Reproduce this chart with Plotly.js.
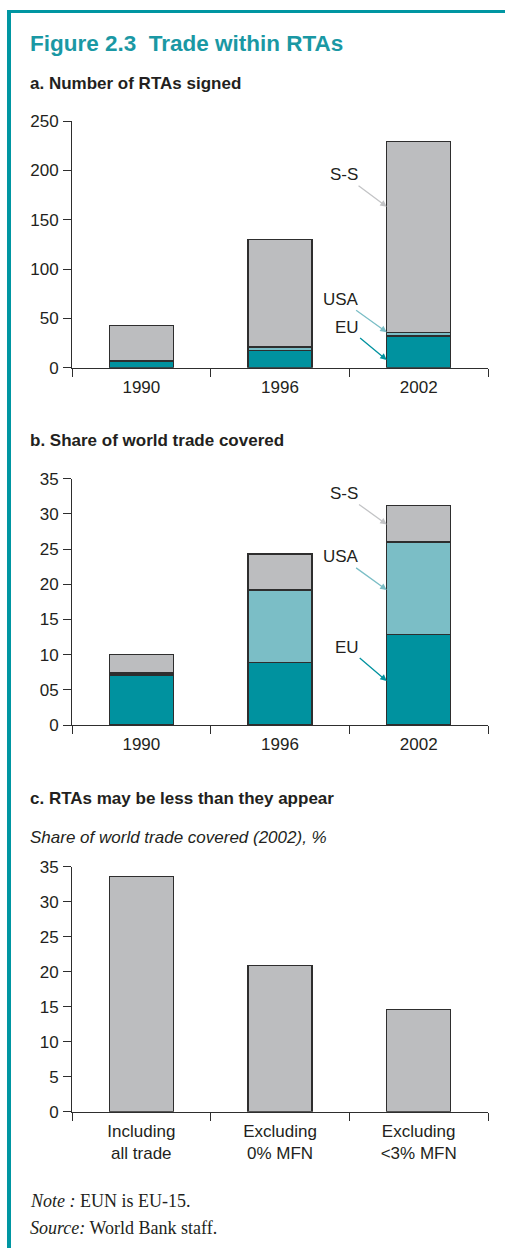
<!DOCTYPE html>
<html><head><meta charset="utf-8">
<script src="https://cdn.plot.ly/plotly-3.0.1.min.js"></script>
<style>html,body{margin:0;padding:0;background:#fff}</style>
</head><body><div id="chart" style="width:505px;height:1248px"></div>
<script>
// ---- data ----
const years = ['1990', '1996', '2002'];
const rtaEU = [6, 17.5, 32];
const rtaUSA = [1.5, 3.5, 4];
const rtaSS = [35.5, 109, 193];
const shareEU = [7.1, 8.9, 12.9];
const shareUSA = [0.3, 10.3, 13.1];
const shareSS = [2.6, 5.1, 5.2];
const scenarios = ['Including<br>all trade', 'Excluding<br>0% MFN', 'Excluding<br>&lt;3% MFN'];
const scenarioShare = [33.6, 20.9, 14.6];
const rtaTickVals = [0, 50, 100, 150, 200, 250];
const shareTickVals = [0, 5, 10, 15, 20, 25, 30, 35];
const shareTickText = ['0', '05', '10', '15', '20', '25', '30', '35'];
const panelCTickText = ['0', '5', '10', '15', '20', '25', '30', '35'];

// ---- styling ----
const W = 505, H = 1248;
const px = x => x / W, py = y => 1 - y / H;
const TEAL = '#00929f', LTEAL = '#7bbec6', GREY = '#bcbdbf', DARK = '#231f20', EDGE = '#2e2e2e';
const SANS = '"Liberation Sans", Arial, Helvetica, sans-serif';
const SERIF = '"Liberation Serif", "Times New Roman", serif';
const barLine = {color: EDGE, width: 1.3};

function bar(x, y, color, xa, ya) {
  return {type: 'bar', x: x, y: y, xaxis: xa, yaxis: ya,
    marker: {color: color, line: barLine}, hoverinfo: 'skip', showlegend: false};
}
const data = [
  bar(years, rtaEU, TEAL, 'x', 'y'),
  bar(years, rtaUSA, LTEAL, 'x', 'y'),
  bar(years, rtaSS, GREY, 'x', 'y'),
  bar(years, shareEU, TEAL, 'x2', 'y2'),
  bar(years, shareUSA, LTEAL, 'x2', 'y2'),
  bar(years, shareSS, GREY, 'x2', 'y2'),
  bar(scenarios, scenarioShare, GREY, 'x3', 'y3')
];

const tickFont = {family: SANS, size: 17, color: DARK};
function xAxis(anchor) {
  return {type: 'category', domain: [px(72), px(488)], anchor: anchor, showline: true, linecolor: EDGE, linewidth: 1,
    ticks: 'outside', tickson: 'boundaries', ticklen: 8, tickcolor: EDGE, tickwidth: 1,
    showgrid: false, zeroline: false, tickfont: tickFont, ticklabelstandoff: 4, fixedrange: true};
}
function yAxis(anchor, top, bottom, range, vals, text) {
  return {domain: [py(bottom), py(top)], anchor: anchor, range: range, showline: true, linecolor: EDGE,
    linewidth: 1, ticks: 'outside', ticklen: 8, tickcolor: EDGE, tickwidth: 1, tickmode: 'array',
    tickvals: vals, ticktext: text, showgrid: false, zeroline: false, tickfont: tickFont,
    ticklabelstandoff: 1, fixedrange: true};
}

function label(text, y, opts) {
  return Object.assign({text: text, xref: 'paper', yref: 'paper', x: px(28), y: py(y),
    xanchor: 'left', yanchor: 'middle', showarrow: false,
    font: {family: SANS, size: 17, color: DARK}}, opts || {});
}
function pointer(text, xa, ya, yv, ax, ay, color) {
  return {text: text, xref: xa, yref: ya, x: 1.77, y: yv, ax: ax, ay: ay,
    showarrow: true, arrowhead: 2, arrowsize: 1, arrowwidth: 1.3, arrowcolor: color,
    font: {family: SANS, size: 17, color: DARK}};
}

const annotations = [
  label('<b>a. Number of RTAs signed</b>', 84),
  label('<b>b. Share of world trade covered</b>', 441),
  label('<b>c. RTAs may be less than they appear</b>', 799),
  label('<i>Share of world trade covered (2002), %</i>', 838),
  label('<i>Note :</i> EUN is EU-15.', 1201, {font: {family: SERIF, size: 18, color: DARK}}),
  label('<i>Source:</i> World Bank staff.', 1228, {font: {family: SERIF, size: 18, color: DARK}}),
  pointer('S-S', 'x', 'y', 163, -43, -32, '#c3c4c6'),
  pointer('USA', 'x', 'y', 36, -46, -33, LTEAL),
  pointer('EU', 'x', 'y', 7.8, -40, -33, TEAL),
  pointer('S-S', 'x2', 'y2', 28.5, -43, -31, '#c3c4c6'),
  pointer('USA', 'x2', 'y2', 19.2, -46, -33, LTEAL),
  pointer('EU', 'x2', 'y2', 6.25, -40, -34, TEAL)
];

const layout = {
  width: W, height: H, margin: {l: 0, r: 0, t: 0, b: 0},
  paper_bgcolor: '#fff', plot_bgcolor: 'rgba(0,0,0,0)',
  barmode: 'stack', bargap: 0.54, showlegend: false,
  title: {text: '<b>Figure 2.3&nbsp; Trade within RTAs</b>', x: px(30), xanchor: 'left', xref: 'paper',
    y: py(43), yanchor: 'middle', yref: 'paper', font: {family: SANS, size: 22.5, color: '#1a98a4'}},
  xaxis: xAxis('y'),
  yaxis: yAxis('x', 121, 367.7, [0, 250], rtaTickVals, rtaTickVals.map(String)),
  xaxis2: xAxis('y2'),
  yaxis2: yAxis('x2', 478.7, 725, [0, 35], shareTickVals, shareTickText),
  xaxis3: xAxis('y3'),
  yaxis3: yAxis('x3', 866.7, 1111.7, [0, 35], shareTickVals, panelCTickText),
  annotations: annotations,
  shapes: [
    {type: 'line', xref: 'paper', yref: 'paper', x0: px(7), x1: 1, y0: py(11.5), y1: py(11.5),
      line: {color: '#0096a2', width: 3}},
    {type: 'line', xref: 'paper', yref: 'paper', x0: px(9), x1: px(9), y0: py(10), y1: 0,
      line: {color: '#0096a2', width: 4}}
  ]
};

Plotly.newPlot('chart', data, layout, {staticPlot: true, displayModeBar: false});
</script></body></html>
